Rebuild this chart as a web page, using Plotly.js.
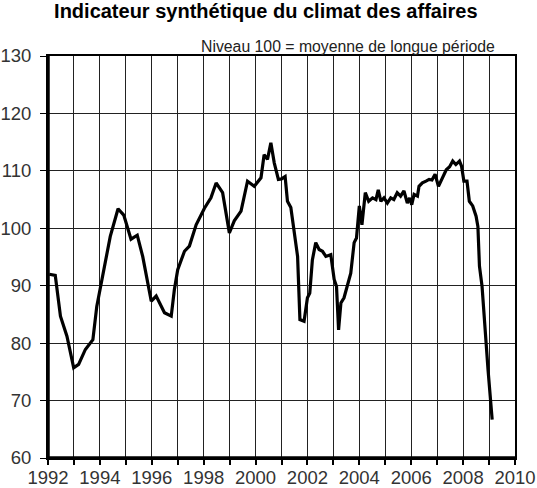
<!DOCTYPE html>
<html>
<head>
<meta charset="utf-8">
<script src="https://cdn.plot.ly/plotly-3.0.1.min.js"></script>
<style>html,body{margin:0;padding:0;background:#fff;}#chart{width:537px;height:488px;}</style>
</head>
<body>
<div id="chart"></div>
<script>
// Dates (decimal years) and indicator values
var dates = [
  1992.05, 1992.28, 1992.48, 1992.73, 1992.99, 1993.18, 1993.44, 1993.73, 1993.88, 1994.08,
  1994.40, 1994.70, 1994.92, 1995.20, 1995.44, 1995.65, 1995.98, 1996.17, 1996.49, 1996.75,
  1996.87, 1997.00, 1997.26, 1997.45, 1997.71, 1998.03, 1998.28, 1998.48, 1998.73, 1998.99,
  1999.18, 1999.44, 1999.69, 1999.95, 2000.21, 2000.33, 2000.46, 2000.59, 2000.72, 2000.88,
  2001.00, 2001.14, 2001.23, 2001.36, 2001.49, 2001.62, 2001.71, 2001.87, 2002.00, 2002.09,
  2002.19, 2002.32, 2002.45, 2002.58, 2002.71, 2002.90, 2003.03, 2003.12, 2003.20, 2003.29,
  2003.41, 2003.54, 2003.67, 2003.80, 2003.89, 2004.00, 2004.10, 2004.23, 2004.36, 2004.51,
  2004.64, 2004.73, 2004.83, 2004.95, 2005.08, 2005.21, 2005.33, 2005.46, 2005.59, 2005.72,
  2005.85, 2005.94, 2006.02, 2006.11, 2006.24, 2006.30, 2006.43, 2006.57, 2006.69, 2006.80,
  2006.92, 2007.05, 2007.20, 2007.35, 2007.48, 2007.60, 2007.72, 2007.86, 2007.94, 2008.03,
  2008.15, 2008.24, 2008.37, 2008.50, 2008.57, 2008.63, 2008.73, 2008.85, 2008.96, 2009.12
];
var climat = [
  92.0, 91.8, 84.7, 81.2, 75.7, 76.3, 78.9, 80.6, 86.4, 91.0,
  98.6, 103.4, 102.3, 98.1, 98.8, 95.1, 87.3, 88.2, 85.3, 84.7,
  89.3, 92.8, 96.0, 96.9, 100.6, 103.5, 105.3, 107.9, 106.2, 99.2,
  101.3, 103.0, 108.2, 107.3, 108.8, 112.8, 112.0, 114.9, 111.4, 108.5,
  108.6, 109.0, 104.7, 103.6, 99.2, 95.1, 84.1, 83.8, 87.9, 88.7,
  94.5, 97.5, 96.3, 96.0, 95.1, 95.4, 91.1, 89.9, 82.3, 87.0,
  87.9, 89.9, 92.2, 97.5, 98.3, 103.9, 100.6, 106.2, 104.7, 105.3,
  105.0, 106.7, 104.7, 105.3, 104.4, 105.3, 105.0, 106.2, 105.6, 106.5,
  104.4, 105.3, 104.1, 105.9, 105.6, 107.3, 107.9, 108.2, 108.5, 108.4,
  109.4, 107.3, 108.8, 110.2, 110.7, 111.7, 111.1, 111.7, 110.8, 108.2,
  108.2, 104.7, 103.9, 102.1, 100.3, 93.4, 89.9, 81.8, 75.4, 66.7
];
var yearTicks = [1992,1993,1994,1995,1996,1997,1998,1999,2000,2001,2002,2003,2004,2005,2006,2007,2008,2009,2010];
var yearLabels = ['1992','','1994','','1996','','1998','','2000','','2002','','2004','','2006','','2008','','2010'];
var yTicks = [60,70,80,90,100,110,120,130];

var font = 'Liberation Sans, Arial, sans-serif';

var data = [{
  x: dates, y: climat, type: 'scatter', mode: 'lines',
  line: {color: '#000', width: 3.2}, hoverinfo: 'skip'
}];

var layout = {
  width: 537, height: 488,
  margin: {l: 48, r: 22, t: 56, b: 30},
  paper_bgcolor: '#fff', plot_bgcolor: '#fff',
  showlegend: false,
  title: {
    text: '<b>Indicateur synthétique du climat des affaires</b>',
    font: {family: font, size: 20, color: '#000'},
    x: 0.495, xanchor: 'center', y: 0.978, yanchor: 'middle'
  },
  xaxis: {
    range: [1992, 2010], tickmode: 'array', tickvals: yearTicks, ticktext: yearLabels,
    showgrid: true, gridcolor: '#222', gridwidth: 1,
    showline: true, linecolor: '#000', linewidth: 2, mirror: true,
    ticks: 'outside', ticklen: 5, tickwidth: 2, tickcolor: '#000',
    ticklabelstandoff: -3,
    tickfont: {family: font, size: 18.5, color: '#333'},
    zeroline: false, fixedrange: true
  },
  yaxis: {
    range: [60, 130], tickmode: 'array', tickvals: yTicks,
    showgrid: true, gridcolor: '#222', gridwidth: 1,
    showline: true, linecolor: '#000', linewidth: 2, mirror: true,
    ticks: 'outside', ticklen: 6, tickwidth: 1, tickcolor: '#000',
    ticklabelstandoff: 5,
    tickfont: {family: font, size: 18.5, color: '#333'},
    zeroline: false, fixedrange: true
  },
  shapes: [
    {type: 'line', xref: 'paper', yref: 'paper', x0: 0, x1: 0, y0: 0, y1: 1, line: {color: '#000', width: 3.5}},
    {type: 'line', xref: 'paper', yref: 'paper', x0: 0, x1: 1, y0: 0, y1: 0, line: {color: '#000', width: 3.5}}
  ],
  annotations: [{
    text: 'Niveau 100 = moyenne de longue période',
    xref: 'paper', yref: 'paper', x: 0.962, y: 1.0, xanchor: 'right', yanchor: 'bottom',
    showarrow: false, font: {family: font, size: 15.8, color: '#222'}, yshift: -1
  }]
};

Plotly.newPlot('chart', data, layout, {displayModeBar: false, staticPlot: true});
</script>
</body>
</html>
